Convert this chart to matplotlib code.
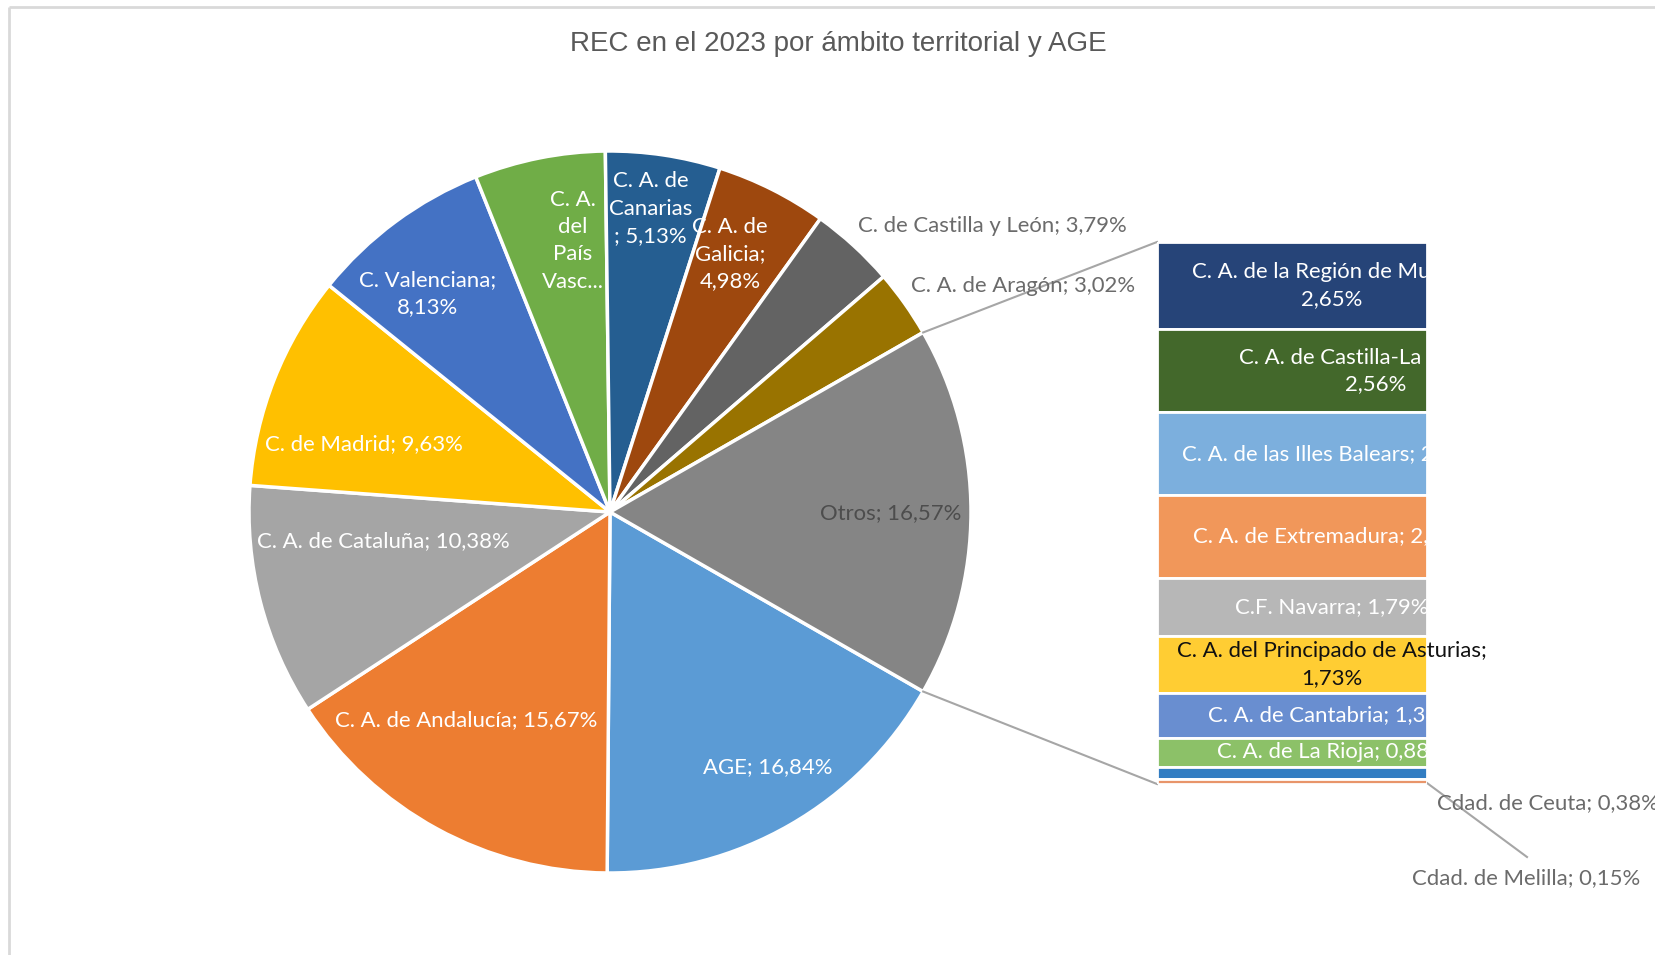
"""
REC en el 2023 por ámbito territorial y AGE - pie of bar
"""

import numpy as np
import matplotlib.pyplot as plt

W, H = 1655, 955

title = 'REC en el 2023 por ámbito territorial y AGE'

pie_names = ['AGE', 'C. A. de Andalucía', 'C. A. de Cataluña', 'C. de Madrid',
             'C. Valenciana', 'C. A. del País Vasco', 'C. A. de Canarias',
             'C. A. de Galicia', 'C. de Castilla y León', 'C. A. de Aragón', 'Otros']
pie_values = [16.84, 15.67, 10.38, 9.63, 8.13, 5.86, 5.13, 4.98, 3.79, 3.02, 16.57]
pie_colors = ['#5B9BD5', '#ED7D31', '#A5A5A5', '#FFC000', '#4472C4', '#70AD47',
              '#255E91', '#9E480E', '#636363', '#997300', '#858585']

bar_names = ['C. A. de la Región de Murcia', 'C. A. de Castilla-La Mancha',
             'C. A. de las Illes Balears', 'C. A. de Extremadura', 'C.F. Navarra',
             'C. A. del Principado de Asturias', 'C. A. de Cantabria',
             'C. A. de La Rioja', 'Cdad. de Ceuta', 'Cdad. de Melilla']
bar_values = [2.65, 2.56, 2.53, 2.52, 1.79, 1.73, 1.38, 0.88, 0.38, 0.15]
bar_colors = ['#264478', '#43682B', '#7CAFDD', '#F1975A', '#B7B7B7', '#FFCD33',
              '#698ED0', '#8CC168', '#327DC2', '#E8956A']

LABEL_FONT = ['Lato', 'DejaVu Sans']
FS = 15.9
LS = 1.45


def pct(v):
    return f'{v:.2f}%'.replace('.', ',')


def pie_label(i):
    name, v = pie_names[i], pie_values[i]
    wrapped = {
        4: f'{name};\n{pct(v)}',
        5: 'C. A.\ndel\nPaís\nVasc...',
        6: f'C. A. de\nCanarias\n; {pct(v)}',
        7: f'C. A. de\nGalicia;\n{pct(v)}',
    }
    return wrapped.get(i, f'{name}; {pct(v)}')


# label placement: (angle deg, radius fraction, ha, color)
pie_label_layout = [
    (-58.2, 0.83, 'center', 'white'),
    (-124.6, 0.70, 'center', 'white'),
    (-172.6, 0.634, 'center', 'white'),
    (164.5, 0.707, 'center', 'white'),
    (129.9, 0.789, 'center', 'white'),
    (97.8, 0.758, 'center', 'white'),
    (82.4, 0.848, 'center', 'white'),
    (65.0, 0.788, 'center', 'white'),
    (49.1, 1.048, 'left', '#6B6B6B'),
    (36.9, 1.043, 'left', '#6B6B6B'),
    (-0.2, 0.778, 'center', '#4D4D4D'),
]

fig = plt.figure(figsize=(W / 100, H / 100), dpi=100)
ax = fig.add_axes([0, 0, 1, 1])

# pie, "Otros" centred on 3 o'clock
cx, cy, r = 610, H - 512, 361
start = -pie_values[-1] * 3.6 / 2
ax.pie(pie_values, colors=pie_colors, startangle=start, counterclock=False,
       center=(cx, cy), radius=r,
       wedgeprops=dict(edgecolor='white', linewidth=2.5))
ax.set_xlim(0, W)
ax.set_ylim(0, H)
ax.set_aspect('auto')
ax.axis('off')

for i, (ang, frac, ha, col) in enumerate(pie_label_layout):
    a = np.deg2rad(ang)
    x = cx + frac * r * np.cos(a)
    y = cy + frac * r * np.sin(a)
    ax.text(x, y, pie_label(i), ha=ha, va='center', color=col, fontsize=FS,
            family=LABEL_FONT, linespacing=LS)

# stacked bar for "Otros"
bx0, bx1, by_top, by_bot = 1157, 1427, 242, 784
bax = fig.add_axes([bx0 / W, (H - by_bot) / H, (bx1 - bx0) / W, (by_bot - by_top) / H])
total = sum(bar_values)
tops = total - np.concatenate([[0], np.cumsum(bar_values)[:-1]])
bottoms = tops - np.array(bar_values)
bax.bar([0] * len(bar_values), bar_values, bottom=bottoms, width=1.0,
        color=bar_colors, edgecolor='white', linewidth=2)
bax.set_xlim(-0.5, 0.5)
bax.set_ylim(0, total)
bax.axis('off')

label_x = (1332 - bx0) / (bx1 - bx0) - 0.5
for i, name in enumerate(bar_names[:8]):
    v = bar_values[i]
    if i in (0, 1, 5):
        txt = f'{name};\n{pct(v)}'
    else:
        txt = f'{name}; {pct(v)}'
    col = '#111111' if i == 5 else 'white'
    x = label_x + (0.16 if i == 1 else 0)
    bax.text(x, bottoms[i] + v / 2, txt, ha='center', va='center', color=col,
             fontsize=FS, family=LABEL_FONT, linespacing=LS, clip_on=False)

# outside labels for the two smallest segments
ax.text(1437, H - 803, f'{bar_names[8]}; {pct(bar_values[8])}', ha='left', va='center',
        color='#6B6B6B', fontsize=FS, family=LABEL_FONT)
ax.text(1526, H - 878, f'{bar_names[9]}; {pct(bar_values[9])}', ha='center', va='center',
        color='#6B6B6B', fontsize=FS, family=LABEL_FONT)
ax.plot([bx1, 1527], [H - by_bot + 1, H - 857], color='#A6A6A6', linewidth=1.5)

# connector lines pie -> bar
half = np.deg2rad(pie_values[-1] * 3.6 / 2)
ax.plot([cx + r * np.cos(half), bx0], [cy + r * np.sin(half), H - by_top],
        color='#A6A6A6', linewidth=1.5)
ax.plot([cx + r * np.cos(half), bx0], [cy - r * np.sin(half), H - by_bot],
        color='#A6A6A6', linewidth=1.5)

# chart frame (top and left edges visible)
ax.plot([9, W], [H - 7, H - 7], color='#D9D9D9', linewidth=2, solid_capstyle='butt')
ax.plot([9, 9], [H - 7, 0], color='#D9D9D9', linewidth=2, solid_capstyle='butt')

fig.text(838 / W, 1 - 44 / H, title, ha='center', va='center', color='#595959',
         fontsize=20, family=['Liberation Sans Narrow', 'Liberation Sans', 'DejaVu Sans'])

fig.savefig('out.png', dpi=100)
